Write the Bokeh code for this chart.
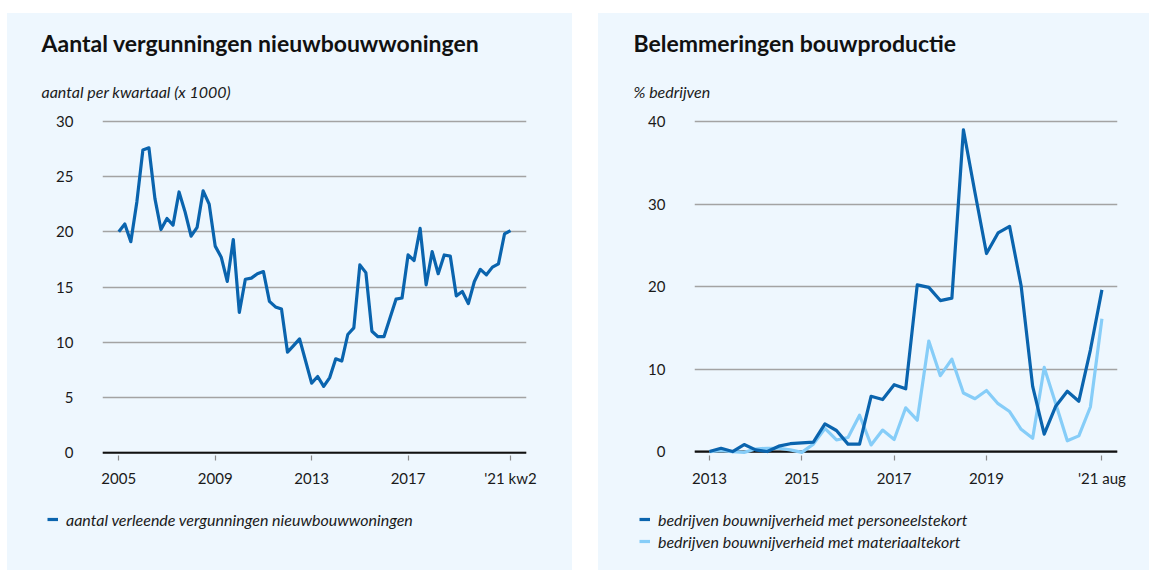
from bokeh.plotting import figure
from bokeh.layouts import row, column
from bokeh.models import (Title, Legend, LegendItem, FixedTicker, Span, Spacer,
                          Range1d)
from bokeh.embed import file_html
from bokeh.resources import INLINE

# ---------------- data ----------------
# Left: permits for new dwellings per quarter (x 1000), 2005 Q1 .. 2021 Q2
vergunningen = [20.0, 20.7, 19.1, 22.7, 27.4, 27.6, 23.0, 20.2, 21.2, 20.6,
                23.6, 21.8, 19.6, 20.4, 23.7, 22.5, 18.7, 17.7, 15.5, 19.3,
                12.7, 15.7, 15.8, 16.2, 16.4, 13.7, 13.2, 13.0, 9.1, 9.7,
                10.3, 8.3, 6.3, 6.9, 6.0, 6.8, 8.5, 8.3, 10.7, 11.3,
                17.0, 16.3, 11.0, 10.5, 10.5, 12.2, 13.9, 14.0, 17.9, 17.4,
                20.3, 15.2, 18.2, 16.2, 17.9, 17.8, 14.2, 14.6, 13.5, 15.5,
                16.6, 16.1, 16.8, 17.1, 19.8, 20.1]
left_ticks = [0, 16, 32, 48, 65]
left_tick_labels = ["2005", "2009", "2013", "2017", "'21 kw2"]
left_yticks = [0, 5, 10, 15, 20, 25, 30]

# Right: % of construction firms with shortages, quarterly 2013 .. aug 2021
personeel = [0.0, 0.4, 0.0, 0.85, 0.2, 0.0, 0.65, 0.95, 1.05, 1.15,
             3.35, 2.55, 0.9, 0.9, 6.7, 6.3, 8.1, 7.6, 20.2, 19.9,
             18.3, 18.6, 39.0, 31.4, 24.0, 26.5, 27.3, 20.1, 7.9, 2.1,
             5.5, 7.3, 6.1, 12.3, 19.6]
materiaal = [0.0, 0.1, 0.0, -0.1, 0.3, 0.4, 0.4, 0.2, -0.1, 0.9,
             2.8, 1.4, 1.7, 4.4, 0.8, 2.6, 1.45, 5.3, 3.8, 13.4,
             9.2, 11.2, 7.1, 6.4, 7.4, 5.8, 4.85, 2.7, 1.6, 10.2,
             5.8, 1.3, 1.9, 5.4, 16.1]
right_ticks = [0, 8, 16, 24, 34]
right_tick_labels = ["2013", "2015", "2017", "2019", "'21 aug"]
right_yticks = [0, 10, 20, 30, 40]

# ---------------- style ----------------
BG = "#EEF7FE"
DARK = "#0A64AE"
LIGHT = "#86CDF8"
GRID = "#A3A3A3"
FONT = "Lato"
TXT = "#1a1a1a"


def make_chart(width, xr, yr, ml, mr, yticks, xticks, xlabels):
    p = figure(width=width, height=487, output_backend="svg", toolbar_location=None,
               x_range=Range1d(*xr), y_range=Range1d(*yr),
               min_border_left=ml, min_border_right=mr, min_border_top=105,
               min_border_bottom=45)
    p.border_fill_color = BG
    p.background_fill_color = BG
    p.outline_line_color = None
    p.xgrid.grid_line_color = None
    p.ygrid.grid_line_color = GRID
    p.ygrid.grid_line_width = 1.3
    p.yaxis.ticker = FixedTicker(ticks=yticks)
    p.yaxis.axis_line_color = None
    p.yaxis.major_tick_line_color = None
    p.yaxis.minor_tick_line_color = None
    p.yaxis.major_label_standoff = 23
    p.xaxis.ticker = FixedTicker(ticks=xticks)
    p.xaxis.major_label_overrides = {t: l for t, l in zip(xticks, xlabels)}
    p.xaxis.axis_line_color = None
    p.xaxis.major_tick_line_color = "#8a8a8a"
    p.xaxis.major_tick_line_width = 1.2
    p.xaxis.major_tick_in = 0
    p.xaxis.major_tick_out = 5
    p.xaxis.minor_tick_line_color = None
    p.xaxis.major_label_standoff = 8
    for ax in (p.xaxis, p.yaxis):
        ax.major_label_text_font = FONT
        ax.major_label_text_font_size = "15px"
        ax.major_label_text_color = TXT
    p.add_layout(Span(location=0, dimension="width", line_color="#111111",
                      line_width=2.2, level="underlay"))
    return p


def add_titles(p, title, subtitle):
    p.add_layout(Title(text=subtitle, text_font=FONT, text_font_size="16px",
                       text_font_style="italic", text_color=TXT, align="left",
                       offset=-61, standoff=36), "above")
    p.add_layout(Title(text=title, text_font=FONT, text_font_size="23px",
                       text_font_style="bold", text_color="#111111", align="left",
                       offset=-61, standoff=10), "above")


def footer(width, labels, colors, loc):
    p = figure(width=width, height=70, output_backend="svg", toolbar_location=None,
               x_range=Range1d(0, width), y_range=Range1d(0, 70),
               min_border_left=0, min_border_right=0, min_border_top=0,
               min_border_bottom=0)
    p.border_fill_color = BG
    p.background_fill_color = BG
    p.outline_line_color = None
    p.renderers = []
    p.left = []
    p.below = []
    p.center = []
    nan = float("nan")
    # legend proxies (no visible data)
    rs = [p.line(x=[nan], y=[nan], line_color=c, line_width=3.2) for c in colors]
    items = [LegendItem(label=l, renderers=[r]) for l, r in zip(labels, rs)]
    lg = Legend(items=items, location=loc)
    lg.border_line_color = None
    lg.background_fill_alpha = 0
    lg.padding = 0
    lg.margin = 0
    lg.spacing = 0
    lg.glyph_width = 11
    lg.glyph_height = 22
    lg.label_height = 22
    lg.label_standoff = 8
    lg.label_text_font = FONT
    lg.label_text_font_size = "16px"
    lg.label_text_font_style = "italic"
    lg.label_text_color = TXT
    p.add_layout(lg)
    return p


# ---------------- left chart ----------------
p1 = make_chart(565, (-2.7, 67.65), (-0.25, 30.25), 95, 46, left_yticks,
                left_ticks, left_tick_labels)
p1.line(list(range(len(vergunningen))), vergunningen, line_color=DARK,
        line_width=3.2, line_join="round")
add_titles(p1, "Aantal vergunningen nieuwbouwwoningen", "aantal per kwartaal (x 1000)")
f1 = footer(565, ["aantal verleende vergunningen nieuwbouwwoningen"], [DARK], (40, 40))

# ---------------- right chart ----------------
p2 = make_chart(551, (-1.3, 35.35), (-0.48, 40.37), 96, 32, right_yticks,
                right_ticks, right_tick_labels)
xs = list(range(len(personeel)))
p2.line(xs, materiaal, line_color=LIGHT, line_width=3.2, line_join="round")
p2.line(xs, personeel, line_color=DARK, line_width=3.2, line_join="round")
add_titles(p2, "Belemmeringen bouwproductie", "% bedrijven")
f2 = footer(551, ["bedrijven bouwnijverheid met personeelstekort",
                  "bedrijven bouwnijverheid met materiaaltekort"], [DARK, LIGHT], (41, 18))

panel_style = {"background-color": BG}
layout = column(Spacer(height=13),
                row(Spacer(width=7),
                    column(p1, column(f1, styles=panel_style), styles=panel_style),
                    Spacer(width=26),
                    column(p2, column(f2, styles=panel_style), styles=panel_style)))
open("out.html", "w").write(file_html(layout, INLINE))
